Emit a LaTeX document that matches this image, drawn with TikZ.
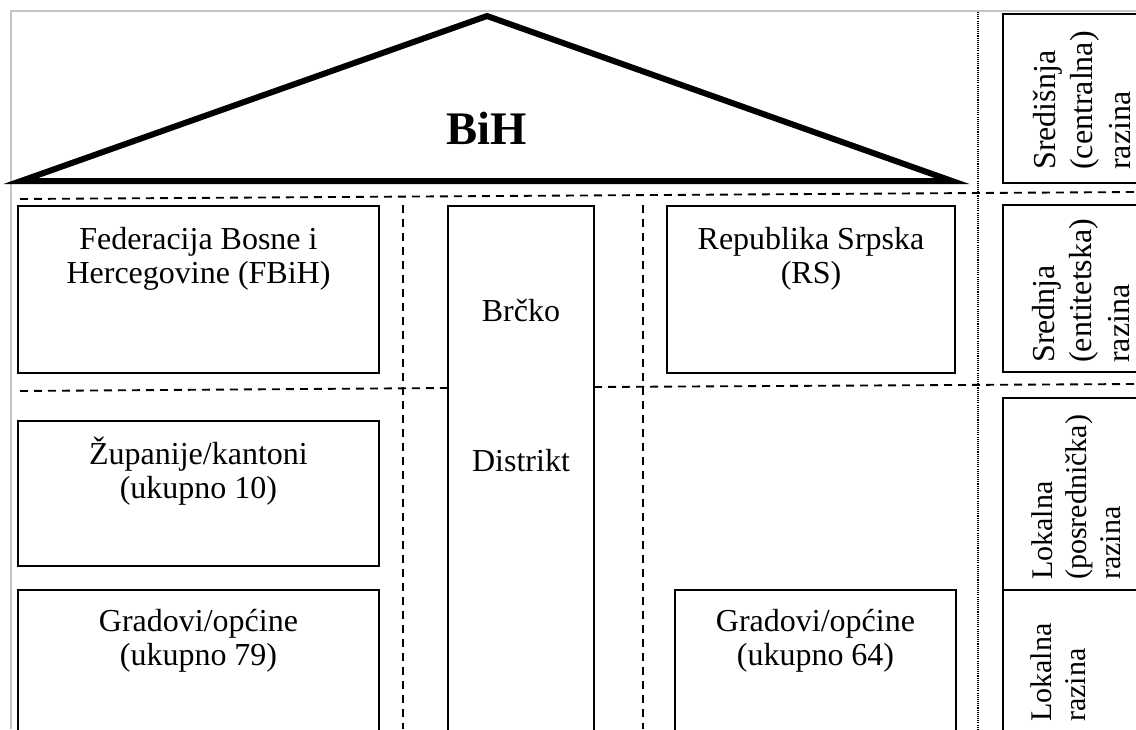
\documentclass[tikz,border=0pt]{standalone}
\usepackage{fontspec}
\setmainfont{Liberation Serif}
\usetikzlibrary{fit}
\begin{document}
\begin{tikzpicture}[x=0.75pt,y=-0.75pt,
  box/.style={draw, line width=1.3pt, inner sep=0pt},
  txt/.style={font=\fontsize{24}{25.5}\selectfont, align=center, inner sep=0pt},
  vtxt/.style={font=\fontsize{24}{28}\selectfont, align=left, rotate=90, anchor=west, inner sep=0pt},
  vtxtsmall/.style={vtxt, font=\fontsize{22.5}{25.5}\selectfont},
  dashline/.style={line width=1.4pt, dash pattern=on 6pt off 4.5pt},
  dotline/.style={line width=0.8pt, dash pattern=on 0.8pt off 0.8pt},
  roof/.style={line width=4.5pt, line join=miter},
  frameline/.style={draw=gray!45, line width=1.5pt}
]
\useasboundingbox (0,0) rectangle (1136,729);
\clip (0,0) rectangle (1136,729);
\fill[white] (0,0) rectangle (1136,729);
% page frame
\draw[frameline] (1136,11) -- (11,11) -- (11,729);

% roof
\coordinate (bl) at (21,181);
\coordinate (apex) at (487,16);
\coordinate (br) at (952,181);
\draw[roof] (bl) -- (apex) -- (br) -- cycle;
\node[font=\bfseries\fontsize{35}{38}\selectfont, inner sep=0pt] (bih) at (487,128) {BiH};

% separators
\coordinate (h1a) at (20,199);  \coordinate (h1b) at (1136,192);
\coordinate (h2a) at (20,391);  \coordinate (h2b) at (448,388);
\coordinate (h3a) at (594,387); \coordinate (h3b) at (1136,384);
\coordinate (v1a) at (403,205); \coordinate (v1b) at (403,729);
\coordinate (v2a) at (643,205); \coordinate (v2b) at (643,729);
\coordinate (d1a) at (978,12);  \coordinate (d1b) at (978,729);
\draw[dashline] (h1a) -- (h1b);
\draw[dashline] (h2a) -- (h2b);
\draw[dashline] (h3a) -- (h3b);
\draw[dashline] (v1a) -- (v1b);
\draw[dashline] (v2a) -- (v2b);
\draw[dotline] (d1a) -- (d1b);

% left and middle boxes
\node[box, fit={(18,206)(379,373)}] (fbih) {};
\node[box, fit={(18,421)(379,566)}] (zup) {};
\node[box, fit={(18,590)(379,740)}] (grl) {};
\node[box, fit={(448,206)(594,740)}] (brcko) {};
\node[box, fit={(667,206)(955,373)}] (rs) {};
\node[box, fit={(675,590)(956,740)}] (grr) {};

\node[txt] (tfbih) at (198.5,259) {Federacija Bosne i\\Hercegovine (FBiH)};
\node[txt] (tzup) at (198.5,471) {Županije/kantoni\\(ukupno 10)};
\node[txt] (tgrl) at (198.5,641) {Gradovi/općine\\(ukupno 79)};
\node[txt] (trs) at (811,259) {Republika Srpska\\(RS)};
\node[txt] (tgrr) at (815.5,641) {Gradovi/općine\\(ukupno 64)};
\node[txt] (tbr1) at (521,311) {Brčko};
\node[txt] (tbr2) at (521,461) {Distrikt};

% right column (levels)
\node[box, fit={(1003,14)(1145,183)}] (r1) {};
\node[box, fit={(1003,205)(1145,372)}] (r2) {};
\node[box, fit={(1003,398)(1145,590)}] (r3) {};
\node[box, fit={(1003,590)(1145,740)}] (r4) {};
\node[vtxt] (tr1) at (1082,170) {Središnja\\(centralna)\\razina};
\node[vtxt] (tr2) at (1081,363) {Srednja\\(entitetska)\\razina};
\node[vtxtsmall] (tr3) at (1076,580) {Lokalna\\(posrednička)\\razina};
\node[vtxtsmall] (tr4) at (1058,722) {Lokalna\\razina};
\end{tikzpicture}
\end{document}
